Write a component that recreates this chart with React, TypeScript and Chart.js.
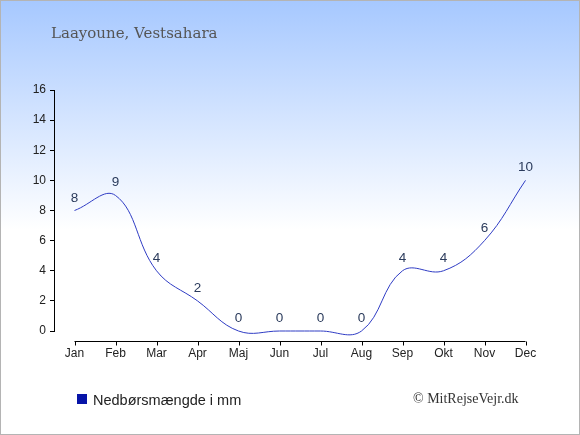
import React, { useEffect, useRef } from "react";
import { Chart, registerables } from "chart.js";

Chart.register(...registerables);

const titleText = "Laayoune, Vestsahara";
const months = ["Jan", "Feb", "Mar", "Apr", "Maj", "Jun", "Jul", "Aug", "Sep", "Okt", "Nov", "Dec"];
const rainfall = [8, 9, 4, 2, 0, 0, 0, 0, 4, 4, 6, 10];
const seriesLabel = "Nedbørsmængde i mm";
const copyrightText = "© MitRejseVejr.dk";
const yMin = 0;
const yMax = 16;
const yStep = 2;

const W = 580;
const H = 435;

const extrasPlugin = {
  id: "extras",
  afterDraw(chart: any) {
    const ctx = chart.ctx;
    const area = chart.chartArea;
    const xs = chart.scales.x;
    ctx.save();
    // x axis line + ticks
    const axisY = Math.round(area.bottom + 10) + 0.5;
    const x0 = xs.getPixelForValue(0);
    const x1 = xs.getPixelForValue(months.length - 1);
    ctx.strokeStyle = "#000";
    ctx.lineWidth = 1;
    ctx.beginPath();
    ctx.moveTo(x0, axisY);
    ctx.lineTo(x1, axisY);
    for (let i = 0; i < months.length; i++) {
      const px = Math.round(xs.getPixelForValue(i)) + 0.5;
      ctx.moveTo(px, axisY);
      ctx.lineTo(px, axisY + 4);
    }
    ctx.stroke();

    // data labels
    const meta = chart.getDatasetMeta(0);
    ctx.fillStyle = "#2b3b5c";
    ctx.font = "13.5px 'Liberation Sans', Arial, sans-serif";
    ctx.textAlign = "center";
    ctx.textBaseline = "alphabetic";
    meta.data.forEach((pt: any, i: number) => {
      ctx.fillText(String(rainfall[i]), pt.x, pt.y - 9);
    });

    // title
    ctx.textAlign = "left";
    ctx.fillStyle = "#555555";
    ctx.font = "15px 'DejaVu Serif', Georgia, serif";
    ctx.fillText(titleText, 51, 38);

    // legend
    ctx.fillStyle = "#0714a8";
    ctx.fillRect(77, 394, 10, 10);
    ctx.fillStyle = "#222222";
    ctx.font = "14.5px 'Liberation Sans', Arial, sans-serif";
    ctx.fillText(seriesLabel, 93, 405);

    // copyright
    ctx.fillStyle = "#333333";
    ctx.font = "14px 'Liberation Serif', 'Times New Roman', serif";
    ctx.fillText(copyrightText, 413, 403);
    ctx.restore();
  },
};

export default function App() {
  const canvasRef = useRef<HTMLCanvasElement | null>(null);

  useEffect(() => {
    document.body.style.margin = "0";
    const canvas = canvasRef.current;
    if (!canvas) return;
    const chart = new Chart(canvas, {
      type: "line",
      data: {
        labels: months,
        datasets: [
          {
            label: seriesLabel,
            data: rainfall,
            borderColor: "#2f3cc4",
            backgroundColor: "#0714a8",
            borderWidth: 1,
            tension: 0.4,
            pointRadius: 0,
            pointHoverRadius: 0,
            fill: false,
            clip: false as any,
          },
        ],
      },
      options: {
        responsive: false,
        animation: false,
        events: [],
        layout: { padding: { top: 90, right: 34, left: 0, bottom: 74 } },
        elements: { line: { capBezierPoints: false } },
        plugins: {
          legend: { display: false },
          title: { display: false },
          tooltip: { enabled: false },
        },
        scales: {
          x: {
            type: "category",
            offset: true,
            grid: { display: false, drawTicks: false },
            border: { display: false },
            ticks: {
              color: "#222222",
              padding: 15,
              font: { family: "'Liberation Sans', Arial, sans-serif", size: 12 },
              maxRotation: 0,
              autoSkip: false,
            },
            afterFit(scale: any) {
              scale.height = 30;
            },
          },
          y: {
            min: yMin,
            max: yMax,
            ticks: {
              stepSize: yStep,
              color: "#222222",
              padding: 4,
              font: { family: "'Liberation Sans', Arial, sans-serif", size: 12 },
            },
            grid: {
              display: true,
              drawOnChartArea: false,
              drawTicks: true,
              tickLength: 4,
              color: "#000000",
            },
            border: { display: true, color: "#000000", width: 1 },
            afterFit(scale: any) {
              scale.width = 54;
            },
          },
        },
      },
      plugins: [extrasPlugin],
    });
    return () => chart.destroy();
  }, []);

  return (
    <div
      style={{
        position: "relative",
        width: W,
        height: H,
        background: "linear-gradient(to bottom, #a6c8ff 0px, #ffffff 230px, #ffffff 435px)",
        overflow: "hidden",
      }}
    >
      <canvas
        ref={canvasRef}
        width={W}
        height={H}
        style={{ position: "absolute", left: 0, top: 0, width: W, height: H }}
      />
      <div
        style={{
          position: "absolute",
          left: 0,
          top: 0,
          width: W,
          height: H,
          border: "1px solid #b4b4b4",
          boxSizing: "border-box",
          pointerEvents: "none",
        }}
      />
    </div>
  );
}
